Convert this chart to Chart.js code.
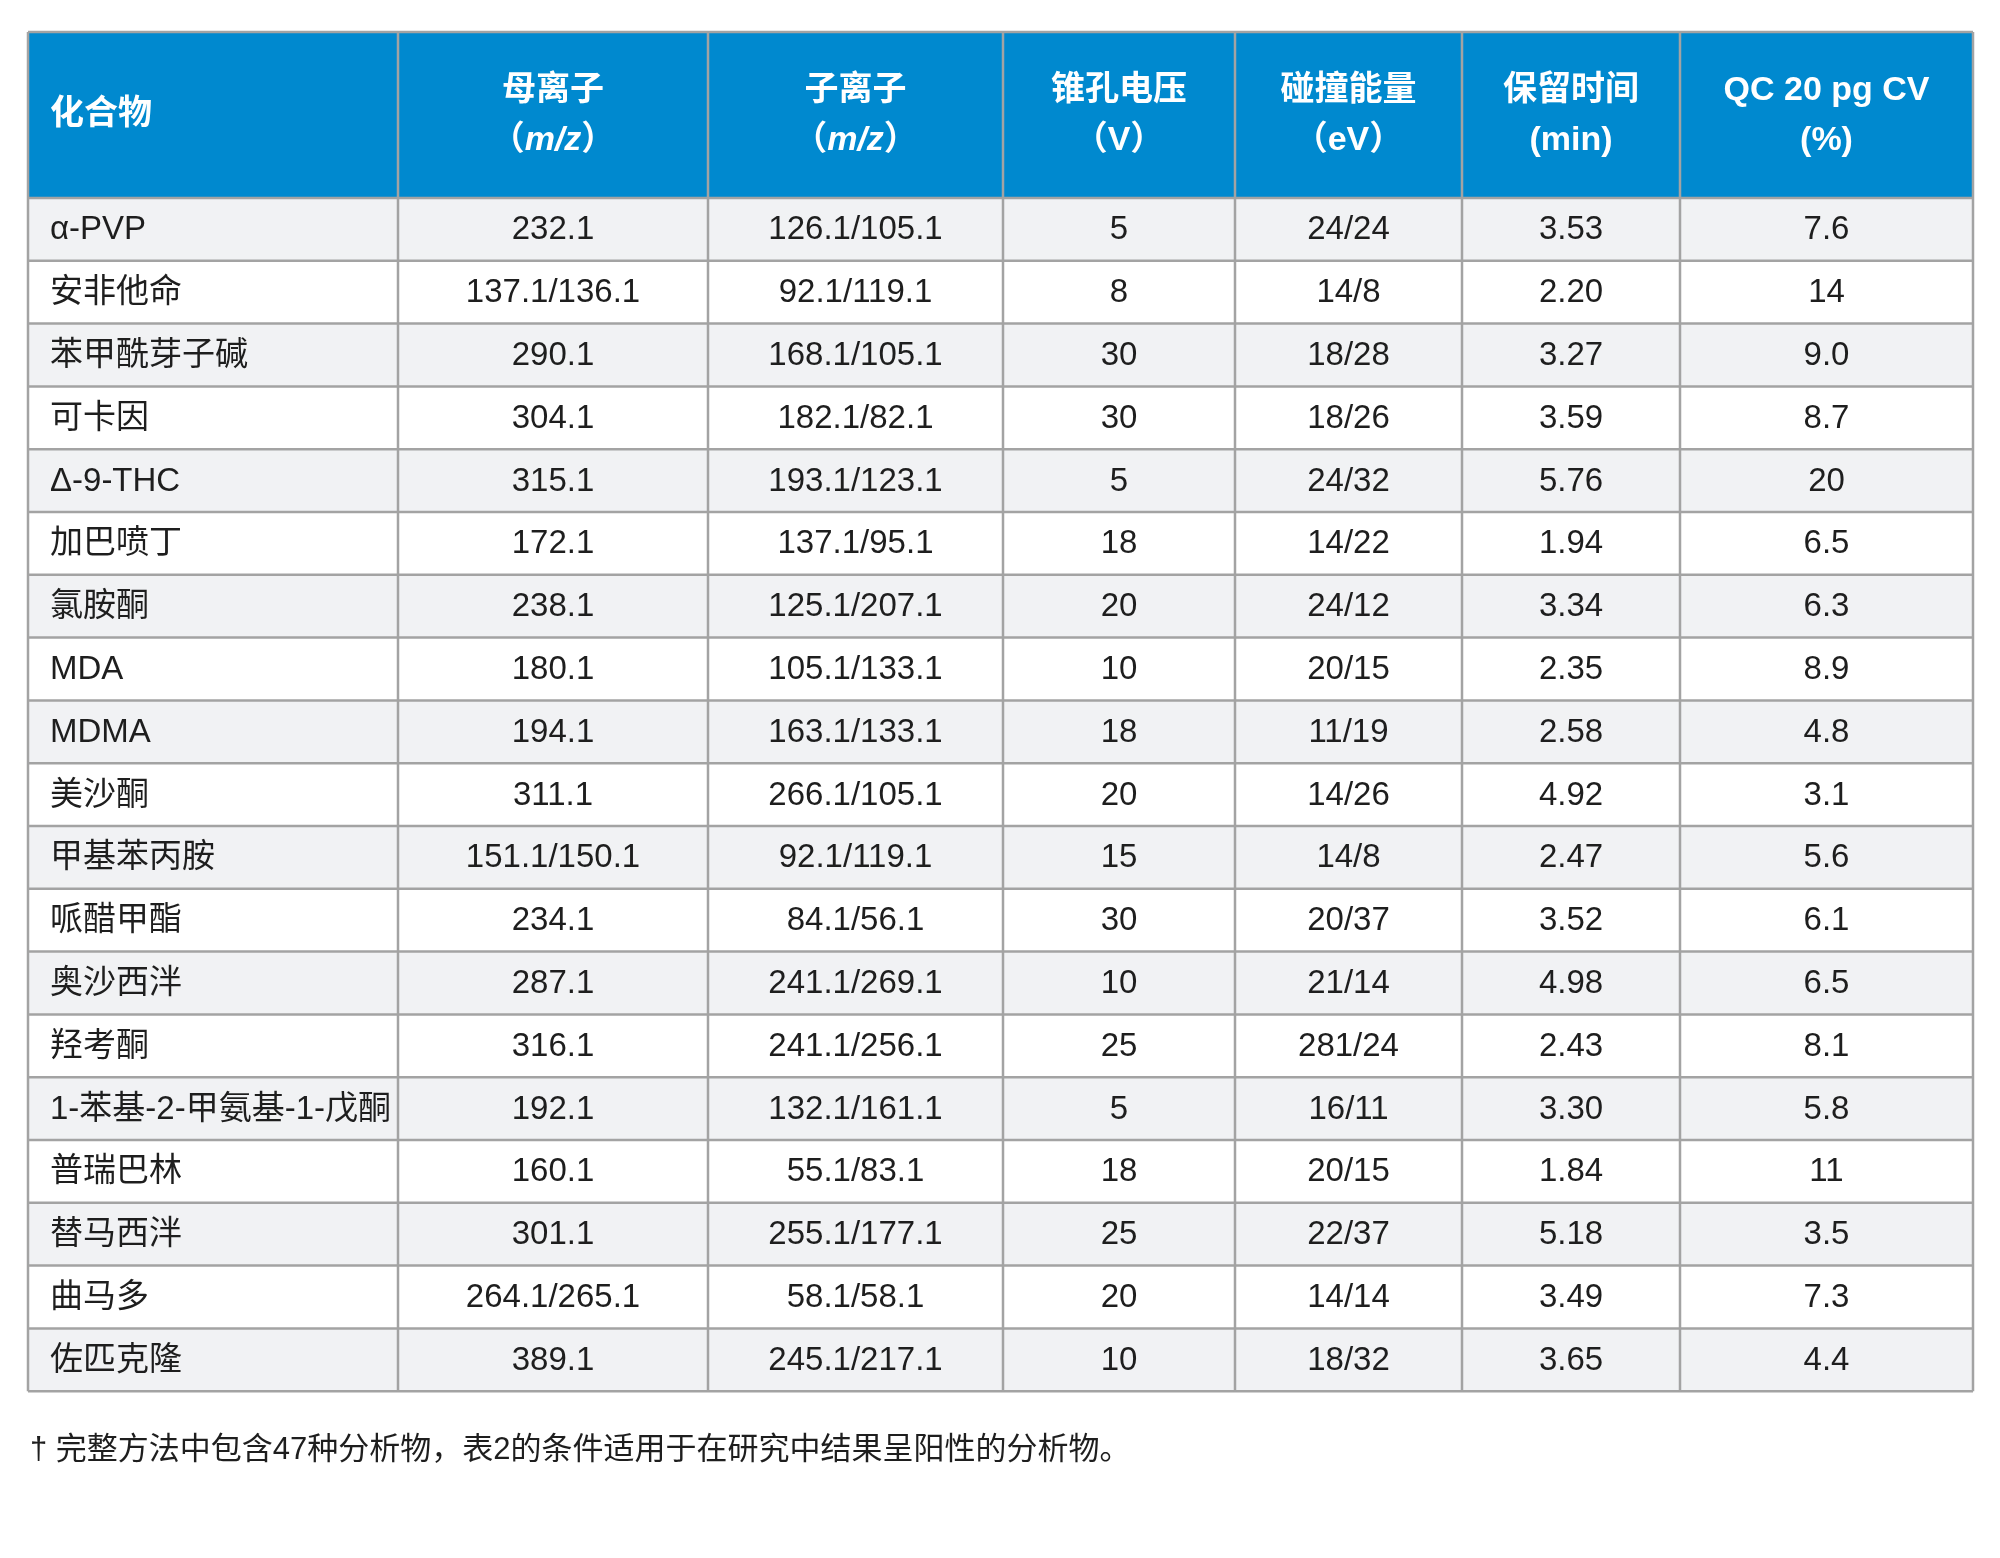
<!DOCTYPE html>
<html><head><meta charset="utf-8">
<script src="https://cdn.jsdelivr.net/npm/chart.js@4"></script>
<style>html,body{margin:0;padding:0;background:#fff}</style>
</head><body>
<canvas id="c" width="2000" height="1558"></canvas>
<script>
const headers = [["化合物"],["母离子","（m/z）"],["子离子","（m/z）"],["锥孔电压","（V）"],["碰撞能量","（eV）"],["保留时间","(min)"],["QC 20 pg CV","(%)"]];
const compounds = ["α-PVP","安非他命","苯甲酰芽子碱","可卡因","Δ-9-THC","加巴喷丁","氯胺酮","MDA","MDMA","美沙酮","甲基苯丙胺","哌醋甲酯","奥沙西泮","羟考酮","1-苯基-2-甲氨基-1-戊酮","普瑞巴林","替马西泮","曲马多","佐匹克隆"];
const precursor = ["232.1","137.1/136.1","290.1","304.1","315.1","172.1","238.1","180.1","194.1","311.1","151.1/150.1","234.1","287.1","316.1","192.1","160.1","301.1","264.1/265.1","389.1"];
const product = ["126.1/105.1","92.1/119.1","168.1/105.1","182.1/82.1","193.1/123.1","137.1/95.1","125.1/207.1","105.1/133.1","163.1/133.1","266.1/105.1","92.1/119.1","84.1/56.1","241.1/269.1","241.1/256.1","132.1/161.1","55.1/83.1","255.1/177.1","58.1/58.1","245.1/217.1"];
const coneV = ["5","8","30","30","5","18","20","10","18","20","15","30","10","25","5","18","25","20","10"];
const collisionE = ["24/24","14/8","18/28","18/26","24/32","14/22","24/12","20/15","11/19","14/26","14/8","20/37","21/14","281/24","16/11","20/15","22/37","14/14","18/32"];
const retention = ["3.53","2.20","3.27","3.59","5.76","1.94","3.34","2.35","2.58","4.92","2.47","3.52","4.98","2.43","3.30","1.84","5.18","3.49","3.65"];
const qcCV = ["7.6","14","9.0","8.7","20","6.5","6.3","8.9","4.8","3.1","5.6","6.1","6.5","8.1","5.8","11","3.5","7.3","4.4"];
const footnote = "† 完整方法中包含47种分析物，表2的条件适用于在研究中结果呈阳性的分析物。";

const columns = [compounds, precursor, product, coneV, collisionE, retention, qcCV];
// layout (pixel units on the hidden linear scales)
const colEdges = [28,398,708,1003,1235,1462,1680,1973];
const headTop = 32, headBottom = 198, rowH = 62.8;
const FONT = '"Liberation Sans","Noto Sans CJK SC",sans-serif';

const tablePlugin = {
  id:'table',
  afterDraw(chart){
    const ctx = chart.ctx, xs = chart.scales.x, ys = chart.scales.y;
    const X = v => xs.getPixelForValue(v), Y = v => ys.getPixelForValue(v);
    const n = compounds.length;
    const bottom = headBottom + n*rowH;
    ctx.save();
    ctx.fillStyle = '#0089cf';
    ctx.fillRect(X(colEdges[0]), Y(headTop), X(colEdges[7])-X(colEdges[0]), Y(headBottom)-Y(headTop));
    for(let r=0;r<n;r++){
      ctx.fillStyle = r%2===0 ? '#f1f2f4' : '#ffffff';
      ctx.fillRect(X(colEdges[0]), Y(headBottom+r*rowH), X(colEdges[7])-X(colEdges[0]), rowH);
    }
    ctx.strokeStyle = '#a3a3a3'; ctx.lineWidth = 2.5;
    for(let r=0;r<=n;r++){
      const y = Y(headBottom+r*rowH);
      ctx.beginPath(); ctx.moveTo(X(colEdges[0]), y); ctx.lineTo(X(colEdges[7]), y); ctx.stroke();
    }
    ctx.beginPath(); ctx.moveTo(X(colEdges[0]), Y(headTop)); ctx.lineTo(X(colEdges[7]), Y(headTop)); ctx.stroke();
    for(let c=0;c<colEdges.length;c++){
      ctx.beginPath(); ctx.moveTo(X(colEdges[c]), Y(headTop)); ctx.lineTo(X(colEdges[c]), Y(bottom)); ctx.stroke();
    }
    ctx.fillStyle = '#ffffff'; ctx.textBaseline = 'middle';
    const hmid = (headTop+headBottom)/2;
    headers.forEach((h,c)=>{
      if(c===0){
        ctx.font = 'bold 34px '+FONT; ctx.textAlign='left';
        ctx.fillText(h[0], X(colEdges[0])+22, Y(hmid)); return;
      }
      const cx = (X(colEdges[c])+X(colEdges[c+1]))/2;
      ctx.textAlign='center';
      ctx.font = 'bold 34px '+FONT;
      ctx.fillText(h[0], cx, Y(hmid-24));
      const s = h[1];
      if(s.includes('m/z')){
        const a='（', b='m/z', d='）';
        ctx.font='bold 34px '+FONT; const wa=ctx.measureText(a).width, wd=ctx.measureText(d).width;
        ctx.font='italic bold 34px '+FONT; const wb=ctx.measureText(b).width;
        let x0 = cx-(wa+wb+wd)/2; ctx.textAlign='left';
        ctx.font='bold 34px '+FONT; ctx.fillText(a,x0,Y(hmid+26));
        ctx.font='italic bold 34px '+FONT; ctx.fillText(b,x0+wa,Y(hmid+26));
        ctx.font='bold 34px '+FONT; ctx.fillText(d,x0+wa+wb,Y(hmid+26));
      } else {
        ctx.fillText(s, cx, Y(hmid+26));
      }
    });
    ctx.fillStyle = '#1e1e1e';
    for(let r=0;r<n;r++){
      const y = Y(headBottom+r*rowH+rowH/2+1);
      columns.forEach((col,c)=>{
        ctx.font = '33px '+FONT;
        if(c===0){ ctx.textAlign='left'; ctx.fillText(col[r], X(colEdges[0])+22, y); }
        else { ctx.textAlign='center'; ctx.fillText(col[r], (X(colEdges[c])+X(colEdges[c+1]))/2, y); }
      });
    }
    ctx.font = '31px '+FONT; ctx.textAlign='left'; ctx.fillStyle='#1e1e1e';
    ctx.fillText(footnote, X(30), Y(1450));
    ctx.restore();
  }
};

new Chart(document.getElementById('c'), {
  type:'scatter',
  data:{datasets:[{data:[],pointRadius:0}]},
  options:{
    responsive:false, animation:false, devicePixelRatio:1,
    layout:{padding:0},
    plugins:{legend:{display:false},tooltip:{enabled:false}},
    scales:{
      x:{type:'linear',min:0,max:2000,display:false},
      y:{type:'linear',min:0,max:1558,reverse:true,display:false}
    }
  },
  plugins:[tablePlugin]
});
</script>
</body></html>
